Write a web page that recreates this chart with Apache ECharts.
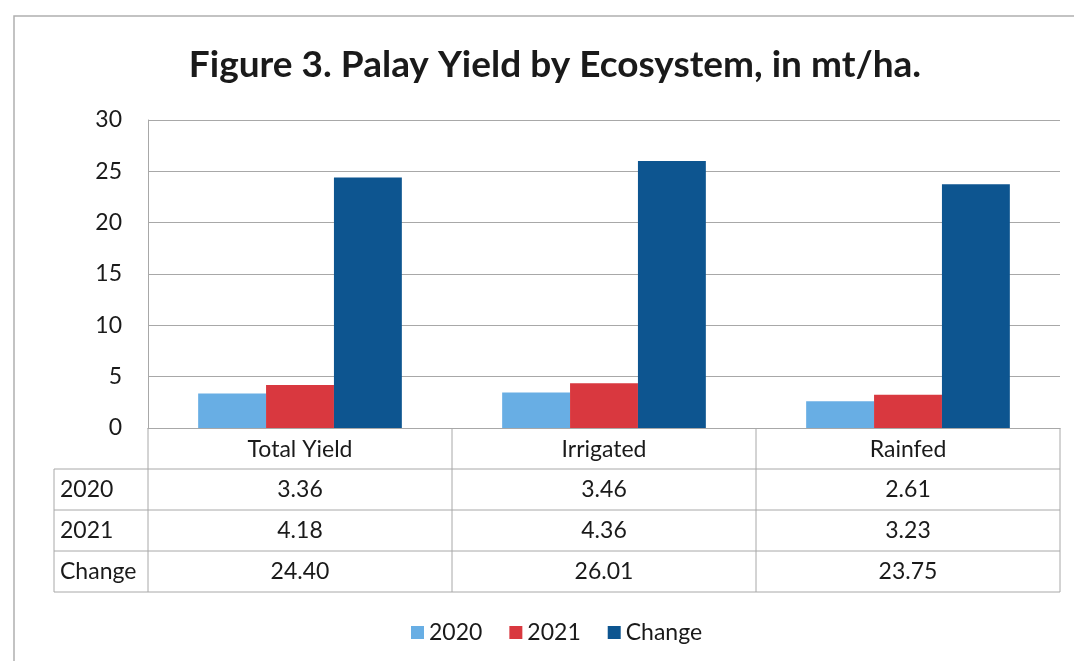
<!DOCTYPE html>
<html><head><meta charset="utf-8">
<script src="https://cdn.jsdelivr.net/npm/echarts@6/dist/echarts.min.js"></script>
<style>html,body{margin:0;padding:0;background:#fff}#c{width:1074px;height:661px}</style>
</head><body><div id="c"></div>
<script>
const categories = ['Total Yield', 'Irrigated', 'Rainfed'];
const seriesNames = ['2020', '2021', 'Change'];
const s2020 = [3.36, 3.46, 2.61];
const s2021 = [4.18, 4.36, 3.23];
const sChange = [24.40, 26.01, 23.75];
const tableText2020 = ['3.36', '3.46', '2.61'];
const tableText2021 = ['4.18', '4.36', '3.23'];
const tableTextChange = ['24.40', '26.01', '23.75'];

const colors = ['#68aee4', '#d9383f', '#0d5590'];
const FONT = 'Lato';
const FS = 23;
const gridLeft = 148, gridRight = 14, gridTop = 120, gridBottomY = 428;
const rowH = 41, tableLeft = 54;
const lineColor = '#a8a8a8';

const chart = echarts.init(document.getElementById('c'));
const option = {
  backgroundColor: '#fff',
  animation: false,
  color: colors,
  title: {
    text: 'Figure 3. Palay Yield by Ecosystem, in mt/ha.',
    left: 550, top: 42, textAlign: 'center',
    textStyle: { fontFamily: FONT, fontWeight: 'bold', fontSize: 37, color: '#1a1a1a' }
  },
  legend: {
    data: seriesNames, left: 406, top: 616,
    itemWidth: 13, itemHeight: 13, itemGap: 27, icon: 'rect',
    textStyle: { fontFamily: FONT, fontSize: FS, color: '#1a1a1a' }
  },
  grid: { left: gridLeft, right: gridRight, top: gridTop, bottom: 661 - gridBottomY },
  xAxis: {
    type: 'category', data: categories,
    axisLine: { lineStyle: { color: lineColor } },
    axisTick: { show: false },
    axisLabel: { fontFamily: FONT, fontSize: FS, color: '#1a1a1a', margin: 10 }
  },
  yAxis: {
    type: 'value', min: 0, max: 30, interval: 5,
    axisLine: { show: true, lineStyle: { color: lineColor } },
    axisTick: { show: false },
    splitLine: { lineStyle: { color: lineColor } },
    axisLabel: { fontFamily: FONT, fontSize: FS, color: '#1a1a1a', margin: 26 }
  },
  series: [
    { name: seriesNames[0], type: 'bar', data: s2020, barGap: '0%', barCategoryGap: '33%' },
    { name: seriesNames[1], type: 'bar', data: s2021 },
    { name: seriesNames[2], type: 'bar', data: sChange }
  ]
};
chart.setOption(option);

// Build data table below the axis from the axis scale
const centers = categories.map((c, i) => chart.convertToPixel({ xAxisIndex: 0 }, i));
const band = centers.length > 1 ? centers[1] - centers[0] : 300;
const xEdges = [centers[0] - band / 2].concat(centers.map(c => c + band / 2));
const rowTops = [gridBottomY, gridBottomY + rowH, gridBottomY + 2 * rowH, gridBottomY + 3 * rowH, gridBottomY + 4 * rowH];
const right = xEdges[xEdges.length - 1];
const g = [];
const line = (x1, y1, x2, y2) => g.push({ type: 'line', shape: { x1, y1, x2, y2 }, style: { stroke: lineColor, lineWidth: 1 }, silent: true });
for (let r = 1; r < rowTops.length; r++) line(tableLeft, rowTops[r], right, rowTops[r]);
line(tableLeft, rowTops[1], tableLeft, rowTops[4]);
xEdges.forEach(x => line(x, rowTops[0], x, rowTops[4]));
const rows = [['2020', tableText2020], ['2021', tableText2021], ['Change', tableTextChange]];
rows.forEach((row, r) => {
  const yc = (rowTops[r + 1] + rowTops[r + 2]) / 2;
  g.push({ type: 'text', style: { text: row[0], x: tableLeft + 6, y: yc, textVerticalAlign: 'middle', verticalAlign: 'middle', font: FS + 'px ' + FONT, fill: '#1a1a1a' } });
  row[1].forEach((t, i) => {
    g.push({ type: 'text', style: { text: t, x: centers[i], y: yc, textAlign: 'center', align: 'center', textVerticalAlign: 'middle', verticalAlign: 'middle', font: FS + 'px ' + FONT, fill: '#1a1a1a' } });
  });
});
// outer chart border
g.push({ type: 'rect', shape: { x: 14, y: 16, width: 1200, height: 800 }, style: { fill: 'none', stroke: '#b0b0b0', lineWidth: 1.5 }, silent: true, z: -1 });
chart.setOption({ graphic: g });
</script></body></html>
